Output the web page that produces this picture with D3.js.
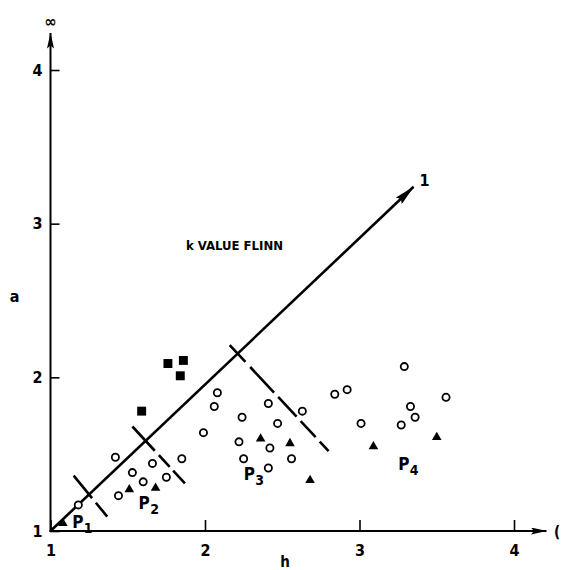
<!DOCTYPE html>
<html>
<head>
<meta charset="utf-8">
<script src="https://cdn.jsdelivr.net/npm/d3@7"></script>
<style>
body { margin: 0; background: #fff; }
svg text { font-family: "Liberation Sans Narrow", "DejaVu Sans Condensed", "Arial Narrow", sans-serif; font-weight: bold; fill: #000; }
</style>
</head>
<body>
<script>
// ticks on both axes
const hTicks = [1, 2, 3, 4];
const aTicks = [1, 2, 3, 4];

// open circles (h, a)
const openH = [1.18, 1.44, 1.42, 1.53, 1.60, 1.66, 1.75, 1.85, 1.99, 2.08, 2.06, 2.24, 2.22, 2.25,
               2.41, 2.42, 2.41, 2.47, 2.56, 2.63, 2.84, 2.92, 3.01, 3.29, 3.27, 3.33, 3.36, 3.56];
const openA = [1.17, 1.23, 1.48, 1.38, 1.32, 1.44, 1.35, 1.47, 1.64, 1.90, 1.81, 1.74, 1.58, 1.47,
               1.83, 1.54, 1.41, 1.70, 1.47, 1.78, 1.89, 1.92, 1.70, 2.07, 1.69, 1.81, 1.74, 1.87];

// filled triangles
const triH = [1.08, 1.51, 1.68, 2.36, 2.55, 2.68, 3.09, 3.50];
const triA = [1.05, 1.27, 1.28, 1.60, 1.57, 1.33, 1.55, 1.61];

// filled squares
const sqH = [1.76, 1.86, 1.84, 1.59];
const sqA = [2.09, 2.11, 2.01, 1.78];

// k = 1 line and the field dividers across it
const kLineEnd = [3.35, 3.24];
const dividerStart = [[1.15, 1.36], [1.53, 1.68], [2.16, 2.21]];
const dividerEnd = [[1.37, 1.09], [1.87, 1.31], [2.80, 1.52]];

// field labels P1..P4
const fieldNames = ["1", "2", "3", "4"];
const fieldH = [1.14, 1.57, 2.25, 3.25];
const fieldA = [1.02, 1.14, 1.33, 1.40];

const width = 562, height = 570;

const svg = d3.select("body").append("svg")
    .attr("width", width)
    .attr("height", height);

const x = d3.scaleLinear().domain([1, 4]).range([50.5, 514]);
const y = d3.scaleLinear().domain([1, 4]).range([531, 70]);

const defs = svg.append("defs");
function arrow(id, len, wid) {
    defs.append("marker")
        .attr("id", id)
        .attr("markerUnits", "userSpaceOnUse")
        .attr("viewBox", `0 0 ${len} ${wid}`)
        .attr("markerWidth", len)
        .attr("markerHeight", wid)
        .attr("refX", len - 0.5)
        .attr("refY", wid / 2)
        .attr("orient", "auto")
        .append("path")
        .attr("d", `M0,0L${len},${wid / 2}L0,${wid}L3,${wid / 2}Z`)
        .attr("fill", "#000");
}
arrow("axArrow", 16, 7);
arrow("kArrow", 21, 9);

// axes
const xAxis = svg.append("g")
    .attr("transform", `translate(0,${y(1)})`)
    .call(d3.axisBottom(x).tickValues(hTicks).tickSizeInner(-11).tickSizeOuter(0).tickPadding(14).tickFormat(d3.format("d")));
const yAxis = svg.append("g")
    .attr("transform", `translate(${x(1)},0)`)
    .call(d3.axisLeft(y).tickValues(aTicks).tickSizeInner(-9).tickSizeOuter(0).tickPadding(8).tickFormat(d3.format("d")));

[xAxis, yAxis].forEach(g => {
    g.attr("font-family", null);
    g.select(".domain").remove();
    g.selectAll(".tick line").attr("stroke", "#000").attr("stroke-width", 1.6);
    g.selectAll(".tick text").attr("font-size", 16).attr("fill", "#000");
});

svg.append("line")
    .attr("x1", x(1) - 1).attr("y1", y(1))
    .attr("x2", x(4.21)).attr("y2", y(1))
    .attr("stroke", "#000").attr("stroke-width", 2)
    .attr("marker-end", "url(#axArrow)");
svg.append("line")
    .attr("x1", x(1)).attr("y1", y(1) + 1)
    .attr("x2", x(1)).attr("y2", y(4.24))
    .attr("stroke", "#000").attr("stroke-width", 2)
    .attr("marker-end", "url(#axArrow)");

// axis names
svg.append("text").attr("x", 285).attr("y", 567).attr("text-anchor", "middle").attr("font-size", 15).text("h");
svg.append("text").attr("x", 14.5).attr("y", 302).attr("text-anchor", "middle").attr("font-size", 16).text("a");
svg.append("text").attr("x", x(1)).attr("y", 27).attr("text-anchor", "middle").attr("font-size", 16).text("∞");
svg.append("text").attr("x", 554).attr("y", 537).attr("font-size", 15).text("(");

// k = 1 line
svg.append("line")
    .attr("x1", x(1)).attr("y1", y(1))
    .attr("x2", x(kLineEnd[0])).attr("y2", y(kLineEnd[1]))
    .attr("stroke", "#000").attr("stroke-width", 2.6)
    .attr("marker-end", "url(#kArrow)");
svg.append("text")
    .attr("x", x(kLineEnd[0]) + 6).attr("y", y(kLineEnd[1]) - 1)
    .attr("font-size", 16).text("1");

// dividers
const dashes = ["29,6,18", "33,6,16,5,18", "23,7,35,6,27,6,22,6,14"];
svg.selectAll(".divider")
    .data(dividerStart)
    .join("line")
    .attr("class", "divider")
    .attr("x1", d => x(d[0])).attr("y1", d => y(d[1]))
    .attr("x2", (d, i) => x(dividerEnd[i][0])).attr("y2", (d, i) => y(dividerEnd[i][1]))
    .attr("stroke", "#000").attr("stroke-width", 2.6)
    .attr("stroke-dasharray", (d, i) => dashes[i]);

// title
svg.append("text")
    .attr("x", x(1.877)).attr("y", y(2.83))
    .attr("font-size", 13).text("k VALUE FLINN");

// points
svg.selectAll(".open")
    .data(openH)
    .join("circle")
    .attr("class", "open")
    .attr("cx", d => x(d))
    .attr("cy", (d, i) => y(openA[i]))
    .attr("r", 3.6)
    .attr("fill", "#fff")
    .attr("stroke", "#000")
    .attr("stroke-width", 1.8);

svg.selectAll(".tri")
    .data(triH)
    .join("path")
    .attr("class", "tri")
    .attr("transform", (d, i) => `translate(${x(d)},${y(triA[i])})`)
    .attr("d", d3.symbol(d3.symbolTriangle, 40))
    .attr("fill", "#000");

svg.selectAll(".sq")
    .data(sqH)
    .join("path")
    .attr("class", "sq")
    .attr("transform", (d, i) => `translate(${x(d)},${y(sqA[i])})`)
    .attr("d", d3.symbol(d3.symbolSquare, 80))
    .attr("fill", "#000");

// field labels
const fl = svg.selectAll(".field")
    .data(fieldNames)
    .join("text")
    .attr("class", "field")
    .attr("x", (d, i) => x(fieldH[i]))
    .attr("y", (d, i) => y(fieldA[i]))
    .attr("font-size", 17);
fl.append("tspan").text("P");
fl.append("tspan").attr("font-size", 14).attr("dy", 5).attr("dx", 0.5).text(d => d);
</script>
</body>
</html>
